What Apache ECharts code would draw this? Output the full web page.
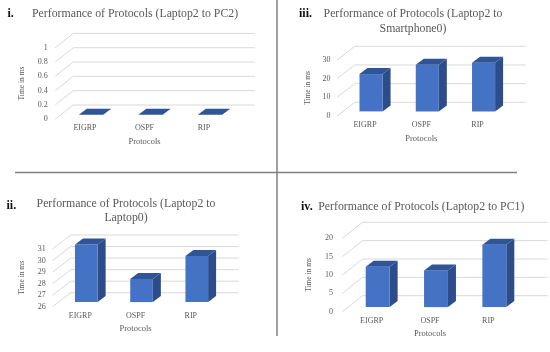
<!DOCTYPE html>
<html><head><meta charset="utf-8">
<script src="https://cdn.jsdelivr.net/npm/echarts@6/dist/echarts.min.js"></script>
<style>html,body{margin:0;padding:0;background:#fff}#c{width:550px;height:352px}</style>
</head><body><div id="c"></div>
<script>
// ---- data ----
const categories = ['EIGRP', 'OSPF', 'RIP'];
const valuesPC2 = [0, 0, 0];
const valuesSmartphone0 = [20, 25, 26];
const valuesLaptop0 = [31, 28, 30];
const valuesPC1 = [11, 10, 17];
const ticksPC2 = [0, 0.2, 0.4, 0.6, 0.8, 1];
const ticksSmartphone0 = [0, 10, 20, 30];
const ticksLaptop0 = [26, 27, 28, 29, 30, 31];
const ticksPC1 = [0, 5, 10, 15, 20];
const numerals = ['i.', 'iii.', 'ii.', 'iv.'];
const titleTexts = [
  'Performance of Protocols (Laptop2 to PC2)',
  'Performance of Protocols (Laptop2 to\nSmartphone0)',
  'Performance of Protocols (Laptop2 to\nLaptop0)',
  'Performance of Protocols (Laptop2 to PC1)'
];
const xName = 'Protocols';
const yName = 'Time in ms';

// ---- layout / style ----
const FONT = '"Liberation Serif", "DejaVu Serif", serif';
const TXT = '#595959';
const panels = [
  {values: valuesPC2, ticks: ticksPC2, grid: {left: 55.25, width: 178.5, top: 47.7, height: 71.6},
   DX: 18, DY: 14.3, ext: 3, lm: 7.5, nameGap: 29,
   num: {x: 7.5, y: 14}, title: {x: 32, y: 14, align: 'left'}},
  {values: valuesSmartphone0, ticks: ticksSmartphone0, grid: {left: 336.9, width: 168.8, top: 60, height: 56},
   DX: 18, DY: 13.7, ext: 2, lm: 6.5, nameGap: 25,
   num: {x: 299, y: 14}, title: {x: 413, y: 14, align: 'center'}},
  {values: valuesLaptop0, ticks: ticksLaptop0, grid: {left: 52.7, width: 165.7, top: 249, height: 57.7},
   DX: 18, DY: 14, ext: 2, lm: 7, nameGap: 27,
   num: {x: 6.5, y: 205.5}, title: {x: 126, y: 203.7, align: 'center'}},
  {values: valuesPC1, ticks: ticksPC1, grid: {left: 342.5, width: 175, top: 238.3, height: 73.4},
   DX: 20, DY: 16, ext: 10, lm: 9.5, nameGap: 29,
   num: {x: 301, y: 207}, title: {x: 318.3, y: 207, align: 'left'}}
];
const OFX = 6, OFY = 4.6, DDX = 8, DDY = 6, BARW = 0.41;
const FRONT = '#4472C4', SIDE = '#2C4C8A', TOP = '#2F5597';

const grid = [], xAxis = [], yAxis = [], series = [], graphic = [];
panels.forEach((p, i) => {
  grid.push(Object.assign({}, p.grid));
  xAxis.push({
    type: 'category', gridIndex: i, data: categories,
    axisLine: {show: false}, axisTick: {show: false},
    axisLabel: {margin: 5, fontFamily: FONT, fontSize: 8, color: TXT},
    name: xName, nameLocation: 'middle', nameGap: 18,
    nameTextStyle: {fontFamily: FONT, fontSize: 8.5, color: TXT}
  });
  yAxis.push({
    type: 'value', gridIndex: i,
    min: p.ticks[0], max: p.ticks[p.ticks.length - 1], interval: p.ticks[1] - p.ticks[0],
    axisLine: {show: false}, axisTick: {show: false}, splitLine: {show: false},
    axisLabel: {margin: p.lm, fontFamily: FONT, fontSize: 8, color: TXT},
    name: yName, nameLocation: 'middle', nameGap: p.nameGap, nameRotate: 90,
    nameTextStyle: {fontFamily: FONT, fontSize: 7.5, color: TXT}
  });
  // back wall + floor-diagonal gridlines
  series.push({
    type: 'custom', xAxisIndex: i, yAxisIndex: i, silent: true, z: 1,
    data: p.ticks.map(t => [0, t]),
    encode: {x: 0, y: 1},
    renderItem: (params, api) => {
      const cs = params.coordSys;
      const y = api.coord([0, api.value(1)])[1];
      return {
        type: 'polyline',
        shape: {points: [[cs.x, y], [cs.x + p.DX, y - p.DY], [cs.x + cs.width + p.DX + p.ext, y - p.DY]]},
        style: {stroke: '#D9D9D9', lineWidth: 1, fill: null}
      };
    }
  });
  // 3D bars
  series.push({
    type: 'custom', xAxisIndex: i, yAxisIndex: i, z: 2,
    data: p.values.map((v, k) => [k, v]),
    encode: {x: 0, y: 1},
    renderItem: (params, api) => {
      const k = api.value(0), v = api.value(1);
      const topPt = api.coord([k, v]);
      const basePt = api.coord([k, p.ticks[0]]);
      const band = api.size([1, 0])[0];
      const w = band * BARW;
      const x0 = topPt[0] - w / 2 + OFX, x1 = x0 + w;
      const yT = topPt[1] - OFY, yB = basePt[1] - OFY;
      return {
        type: 'group',
        children: [
          {type: 'polygon', shape: {points: [[x1, yB], [x1, yT], [x1 + DDX, yT - DDY], [x1 + DDX, yB - DDY]]},
           style: {fill: SIDE}},
          {type: 'rect', shape: {x: x0, y: yT, width: w, height: yB - yT}, style: {fill: FRONT}},
          {type: 'polygon', shape: {points: [[x0, yT], [x1, yT], [x1 + DDX, yT - DDY], [x0 + DDX, yT - DDY]]},
           style: {fill: TOP}}
        ]
      };
    }
  });
  graphic.push({
    type: 'text', x: p.num.x, y: p.num.y,
    style: {text: numerals[i], fill: '#111', font: 'bold 12px ' + FONT, align: 'left', verticalAlign: 'middle'}
  });
  const multi = titleTexts[i].indexOf('\n') >= 0;
  graphic.push({
    type: 'text', x: p.title.x, y: p.title.y,
    style: {text: titleTexts[i], fill: TXT, font: '11.8px ' + FONT, align: p.title.align,
            verticalAlign: multi ? 'top' : 'middle', lineHeight: 14.4}
  });
});
// fix multi-line titles: top-aligned, shift up half a line
graphic.forEach(g => { if (g.style.verticalAlign === 'top') g.y -= 7.2; });
// divider lines
graphic.push({type: 'line', shape: {x1: 277, y1: 0, x2: 277, y2: 336}, style: {stroke: '#808080', lineWidth: 1.5}});
graphic.push({type: 'line', shape: {x1: 15, y1: 172.5, x2: 517, y2: 172.5}, style: {stroke: '#808080', lineWidth: 1.5}});

const chart = echarts.init(document.getElementById('c'), null, {renderer: 'canvas'});
chart.setOption({animation: false, backgroundColor: '#fff', grid, xAxis, yAxis, series, graphic});
</script></body></html>
